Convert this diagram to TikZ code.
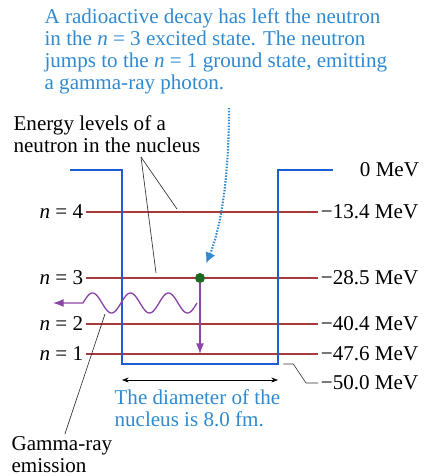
\documentclass[tikz,border=0pt]{standalone}
\usepackage{fontspec}
\setmainfont{LiberationSerif}[Extension=.ttf,UprightFont=*-Regular,ItalicFont=*-Italic,BoldFont=*-Bold]
\usepackage{xcolor}
\usetikzlibrary{arrows.meta}
\definecolor{Well}{HTML}{1F5BD2}
\definecolor{Note}{HTML}{2F8AD0}
\definecolor{Level}{HTML}{A8393C}
\definecolor{Photon}{HTML}{8A45A8}
\definecolor{Neutron}{HTML}{1B6B22}

\begin{document}
\begin{tikzpicture}[
    x=0.75pt,y=-0.75pt,
    font=\fontsize{15.8}{16.6}\selectfont,
    txt/.style={inner sep=1pt,align=left},
    note/.style={txt,text=Note},
    lab/.style={inner sep=2pt},
    level/.style={draw=Level,line width=1pt},
    well/.style={draw=Well,line width=1.6pt},
    photon/.style={draw=Photon,line width=1pt},
    pointer/.style={draw=black!80,line width=0.5pt},
    dim/.style={{Stealth[length=5pt]}-{Stealth[length=5pt]},line width=0.5pt}
]
\useasboundingbox (0,0) rectangle (426,476);
% texts
\node[note,anchor=north west] (decay) at (43,7) {A radioactive decay has left the neutron\\
  in the \textit{n} = 3 excited state. The neutron\\
  jumps to the \textit{n} = 1 ground state, emitting\\
  a gamma-ray photon.};
\node[txt,anchor=north west] (elev) at (12,114) {Energy levels of a\\neutron in the nucleus};
\node[txt,anchor=north west] (gamma) at (10,435) {Gamma-ray\\emission};
\node[note,anchor=north west] (diam) at (113,388) {The diameter of the\\nucleus is 8.0 fm.};
% level labels
\node[lab,anchor=east] (n4) at (86,212) {\textit{n} = 4};
\node[lab,anchor=east] (n3) at (86,278) {\textit{n} = 3};
\node[lab,anchor=east] (n2) at (86,324) {\textit{n} = 2};
\node[lab,anchor=east] (n1) at (86,354) {\textit{n} = 1};
\node[lab,anchor=east] (e0) at (422,170) {0 MeV};
\node[lab,anchor=west] (e4) at (318,212) {−13.4 MeV};
\node[lab,anchor=west] (e3) at (318,278) {−28.5 MeV};
\node[lab,anchor=west] (e2) at (318,324) {−40.4 MeV};
\node[lab,anchor=west] (e1) at (318,354) {−47.6 MeV};
\node[lab,anchor=west] (eb) at (318,383) {−50.0 MeV};
% energy levels
\draw[level] (n4) -- (e4);
\draw[level] (n3) -- (e3);
\draw[level] (n2) -- (e2);
\draw[level] (n1) -- (e1);
% potential well
\coordinate (wl) at (122,364);
\coordinate (wr) at (278,364);
\draw[well] (70,170) -- (122,170) -- (wl) -- (wr) -- (278,170) -- (333,170);
% bottom of the well
\draw[pointer] ([xshift=4]wr) -- ++(10,0) -- (306,383) -- (eb);
\draw[dim] (122,380) -- (278,380);
% neutron jump
\node[circle,fill=Neutron,inner sep=0pt,minimum size=7.5] (dot) at (200,278) {};
\coordinate (ground) at (200,354);
\draw[photon,-{Latex[length=8pt,width=6pt]}] (dot) -- (ground);
\draw[photon,-{Latex[length=8pt,width=6pt]}]
  plot[domain=0:114,samples=90,smooth] ({197-\x},{303+10*sin(\x*9.4737)}) -- (53,303);
% dotted note arrow
\coordinate (dtop) at (229,108);
\draw[draw=Note,line width=1.6pt,dash pattern=on 1.1pt off 1.1pt,shorten >=8pt,-{Latex[length=8pt,width=8pt]}]
  (dtop) .. controls (229,190) and (218,235) .. (dot);
% pointers
\coordinate (eptr) at (141,157);
\draw[pointer] (eptr) -- (177,209);
\draw[pointer] (eptr) -- (156,273);
\draw[pointer] (gamma.north) ++(3,-1) -- (105,314);
\end{tikzpicture}
\end{document}
